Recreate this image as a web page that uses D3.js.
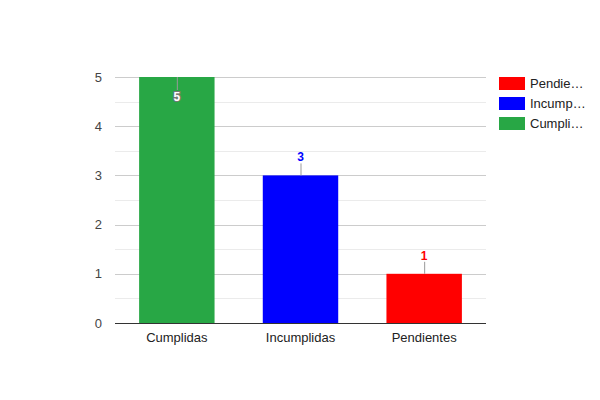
<!DOCTYPE html>
<html>
<head>
<meta charset="utf-8">
<script src="https://cdn.jsdelivr.net/npm/d3@7"></script>
<style>
  body { margin: 0; background: #fff; }
  svg { font-family: Arial, "Liberation Sans", sans-serif; }
</style>
</head>
<body>
<div id="chart"></div>
<script>
const categories = ["Cumplidas", "Incumplidas", "Pendientes"]
const values = [5, 3, 1]
const colors = ["#28a745", "#0000ff", "#ff0000"]
const legendLabels = ["Pendie…", "Incump…", "Cumpli…"]
const legendOrder = ["Pendientes", "Incumplidas", "Cumplidas"]
const yTicks = [0, 1, 2, 3, 4, 5]
const yMinor = [0.5, 1.5, 2.5, 3.5, 4.5]

const width = 600
const height = 400
const margin = { top: 77, right: 114, bottom: 77, left: 115 }

const svg = d3.select("#chart")
  .append("svg")
  .attr("width", width)
  .attr("height", height)

const x = d3.scaleBand()
  .domain(categories)
  .range([margin.left, width - margin.right])
  .paddingInner(0.39)
  .paddingOuter(0.195)

const y = d3.scaleLinear()
  .domain([0, 5])
  .range([height - margin.bottom, margin.top])

const color = d3.scaleOrdinal().domain(categories).range(colors)

// minor gridlines
svg.append("g")
  .selectAll("line")
  .data(yMinor)
  .join("line")
  .attr("x1", margin.left)
  .attr("x2", width - margin.right)
  .attr("y1", d => Math.round(y(d)) + 0.5)
  .attr("y2", d => Math.round(y(d)) + 0.5)
  .attr("stroke", "#ebebeb")

// major gridlines
svg.append("g")
  .selectAll("line")
  .data(yTicks.filter(d => d > 0))
  .join("line")
  .attr("x1", margin.left)
  .attr("x2", width - margin.right)
  .attr("y1", d => Math.round(y(d)) + 0.5)
  .attr("y2", d => Math.round(y(d)) + 0.5)
  .attr("stroke", "#cccccc")

// y axis labels
const yAxis = svg.append("g")
  .attr("transform", `translate(${margin.left},0)`)
  .call(d3.axisLeft(y).tickValues(yTicks).tickSize(0).tickPadding(13).tickFormat(d3.format("d")))
yAxis.select(".domain").remove()
yAxis.selectAll("text").attr("fill", "#444").style("font-size", "13px")

// bars
svg.append("g")
  .selectAll("rect")
  .data(categories)
  .join("rect")
  .attr("x", d => x(d))
  .attr("width", x.bandwidth())
  .attr("y", (d, i) => y(values[i]))
  .attr("height", (d, i) => y(0) - y(values[i]))
  .attr("fill", d => color(d))

// baseline
svg.append("line")
  .attr("x1", margin.left)
  .attr("x2", width - margin.right)
  .attr("y1", y(0) + 0.5)
  .attr("y2", y(0) + 0.5)
  .attr("stroke", "#333")

// x axis labels
const xAxis = svg.append("g")
  .attr("transform", `translate(0,${y(0)})`)
  .call(d3.axisBottom(x).tickSize(0).tickPadding(10))
xAxis.select(".domain").remove()
xAxis.selectAll("text").attr("fill", "#222").style("font-size", "13px")

// annotations
const ann = svg.append("g")
  .selectAll("g")
  .data(categories)
  .join("g")
  .attr("transform", (d, i) => `translate(${x(d) + x.bandwidth() / 2},${y(values[i])})`)

ann.each(function (d, i) {
  const g = d3.select(this)
  const inside = values[i] === d3.max(values)
  g.append("line")
    .attr("x1", 0.5).attr("x2", 0.5)
    .attr("y1", 0)
    .attr("y2", inside ? 13 : -12)
    .attr("stroke", "#999")
  const t = g.append("text")
    .attr("text-anchor", "middle")
    .attr("y", inside ? 24 : -14)
    .style("font-size", "12px")
    .style("font-weight", "bold")
    .text(values[i])
  if (inside) {
    t.attr("fill", "#fff")
      .attr("stroke", "#777")
      .attr("stroke-width", 2)
      .attr("paint-order", "stroke")
  } else {
    t.attr("fill", color(d))
  }
})

// legend
const legend = svg.append("g")
  .attr("transform", "translate(499,77)")
  .selectAll("g")
  .data(legendOrder)
  .join("g")
  .attr("transform", (d, i) => `translate(0,${i * 20})`)

legend.append("rect")
  .attr("width", 26)
  .attr("height", 13)
  .attr("fill", d => color(d))

legend.append("text")
  .attr("x", 31)
  .attr("y", 11)
  .attr("fill", "#222")
  .style("font-size", "13px")
  .text((d, i) => legendLabels[i])
</script>
</body>
</html>
